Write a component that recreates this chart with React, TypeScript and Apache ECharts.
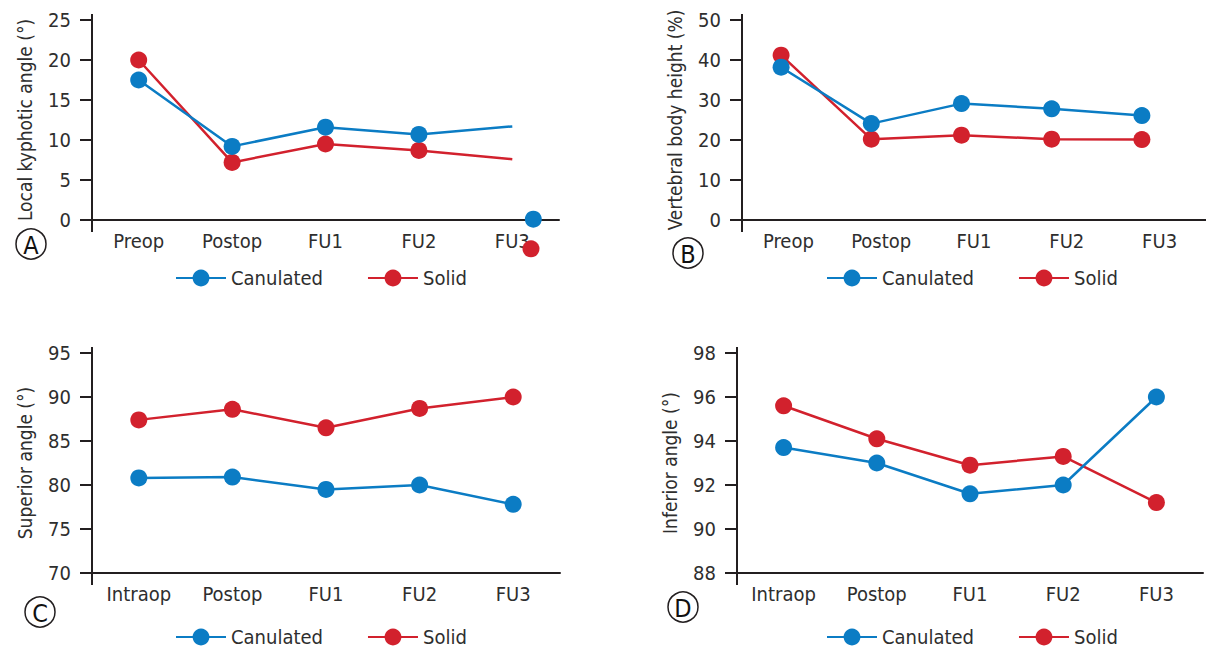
import React, { useEffect, useRef } from "react";
import * as echarts from "echarts";

// ---- data ----
const catsAB = ["Preop", "Postop", "FU1", "FU2", "FU3"];
const catsCD = ["Intraop", "Postop", "FU1", "FU2", "FU3"];
const kyphCanulated = [17.5, 9.2, 11.6, 10.7, 11.7];
const kyphSolid = [20.0, 7.2, 9.5, 8.7, 7.6];
const kyphStrayCanulated = [[4.225, 0.1]];
const kyphStraySolid = [[4.2, -3.6]];
const vbhCanulated = [38.2, 24.1, 29.1, 27.8, 26.1];
const vbhSolid = [41.2, 20.2, 21.2, 20.2, 20.1];
const supCanulated = [80.8, 80.9, 79.5, 80.0, 77.8];
const supSolid = [87.4, 88.6, 86.5, 88.7, 90.0];
const infCanulated = [93.7, 93.0, 91.6, 92.0, 96.0];
const infSolid = [95.6, 94.1, 92.9, 93.3, 91.2];

const BLUE = "#0b7cc4";
const RED = "#d2212d";
const INK = "#231f20";
const TXT = "#2e2e2e";
const FONT = "'Liberation Sans Narrow', 'DejaVu Sans Condensed', 'Roboto', sans-serif";

// layout
const PA = { left: 92, top: 20, width: 467, height: 200 };
const PBlab = { left: 742, top: 20, width: 470, height: 200 };
const PBdat = { left: 736, top: 20, width: 451, height: 200 };
const PC = { left: 92, top: 353, width: 468, height: 220 };
const PD = { left: 737, top: 353, width: 466, height: 220 };

function yAxisCfg(gridIndex: number, min: number, max: number, interval: number, name: string) {
  return {
    type: "value",
    gridIndex,
    min,
    max,
    interval,
    name,
    nameLocation: "middle",
    nameGap: 58,
    nameTextStyle: { fontFamily: FONT, fontSize: 19, color: TXT },
    axisLine: { show: false, onZero: false },
    axisTick: { show: true, length: 12, lineStyle: { color: INK, width: 2 } },
    axisLabel: { margin: 21, fontFamily: FONT, fontSize: 20, color: TXT },
    splitLine: { show: false },
  };
}

function xAxisCfg(gridIndex: number, data: string[]) {
  return {
    type: "category",
    gridIndex,
    data,
    boundaryGap: true,
    axisLine: { show: true, onZero: false, lineStyle: { color: INK, width: 2 } },
    axisTick: { show: false },
    axisLabel: { margin: 11, fontFamily: FONT, fontSize: 20, color: TXT, interval: 0 },
    splitLine: { show: false },
  };
}

function lineSeries(name: string, color: string, xi: number, yi: number, data: any[]) {
  return {
    type: "line",
    name,
    xAxisIndex: xi,
    yAxisIndex: yi,
    data,
    symbol: "circle",
    symbolSize: 17,
    lineStyle: { color, width: 2.5 },
    itemStyle: { color, opacity: 1 },
    z: color === RED ? 3 : 4,
  };
}

function legendCfg(left: number, top: number) {
  return {
    data: ["Canulated", "Solid"],
    left,
    top,
    padding: 0,
    itemWidth: 50,
    itemHeight: 21,
    itemGap: 44,
    selectedMode: false,
    textStyle: { fontFamily: FONT, fontSize: 20, color: TXT },
  };
}

function yLine(p: { left: number; top: number; height: number }) {
  return {
    type: "line",
    shape: { x1: p.left, y1: p.top - 6, x2: p.left, y2: p.top + p.height + 12 },
    style: { stroke: INK, lineWidth: 2 },
    z: 10,
  };
}

function badge(cx: number, cy: number, letter: string) {
  return [
    { type: "circle", shape: { cx, cy, r: 15 }, style: { fill: "#fff", stroke: INK, lineWidth: 1.5 } },
    {
      type: "text",
      x: cx,
      y: cy + 1,
      style: { text: letter, align: "center", verticalAlign: "middle", fontFamily: FONT, fontSize: 25, fill: "#111" },
    },
  ];
}

export default function App() {
  const ref = useRef<HTMLDivElement>(null);
  useEffect(() => {
    if (!ref.current) return;
    const chart = echarts.init(ref.current, undefined, { renderer: "svg" });
    const a = kyphCanulated.map((v, i) => (i === 4 ? { value: v, symbol: "none" } : v));
    const b = kyphSolid.map((v, i) => (i === 4 ? { value: v, symbol: "none" } : v));
    chart.setOption({
      animation: false,
      backgroundColor: "#ffffff",
      grid: [
        { ...PA, containLabel: false },
        { ...PBlab, containLabel: false },
        { ...PBdat, containLabel: false },
        { ...PC, containLabel: false },
        { ...PD, containLabel: false },
      ],
      xAxis: [
        xAxisCfg(0, catsAB),
        { type: "value", gridIndex: 0, min: -0.5, max: 4.5, show: false },
        xAxisCfg(1, catsAB),
        { ...xAxisCfg(2, catsAB), show: false },
        xAxisCfg(3, catsCD),
        xAxisCfg(4, catsCD),
      ],
      yAxis: [
        yAxisCfg(0, 0, 25, 5, "Local kyphotic angle (°)"),
        yAxisCfg(1, 0, 50, 10, "Vertebral body height (%)"),
        { type: "value", gridIndex: 2, min: 0, max: 50, interval: 10, show: false },
        yAxisCfg(3, 70, 95, 5, "Superior angle (°)"),
        yAxisCfg(4, 88, 98, 2, "Inferior angle (°)"),
      ],
      legend: [legendCfg(175, 268), legendCfg(826, 268), legendCfg(175, 627), legendCfg(826, 627)],
      series: [
        lineSeries("Canulated", BLUE, 0, 0, a),
        lineSeries("Solid", RED, 0, 0, b),
        {
          type: "scatter", name: "Canulated FU3", xAxisIndex: 1, yAxisIndex: 0, data: kyphStrayCanulated,
          symbolSize: 17, itemStyle: { color: BLUE, opacity: 1 }, clip: false, z: 5,
        },
        {
          type: "scatter", name: "Solid FU3", xAxisIndex: 1, yAxisIndex: 0, data: kyphStraySolid,
          symbolSize: 17, itemStyle: { color: RED, opacity: 1 }, clip: false, z: 5,
        },
        lineSeries("Canulated", BLUE, 3, 2, vbhCanulated),
        lineSeries("Solid", RED, 3, 2, vbhSolid),
        lineSeries("Canulated", BLUE, 4, 3, supCanulated),
        lineSeries("Solid", RED, 4, 3, supSolid),
        lineSeries("Canulated", BLUE, 5, 4, infCanulated),
        lineSeries("Solid", RED, 5, 4, infSolid),
      ],
      graphic: [
        yLine(PA),
        yLine(PBlab),
        yLine(PC),
        yLine(PD),
        ...badge(31, 244, "A"),
        ...badge(688, 253, "B"),
        ...badge(40, 612, "C"),
        ...badge(683, 607, "D"),
      ],
    });
    return () => chart.dispose();
  }, []);
  return <div ref={ref} style={{ position: "fixed", left: 0, top: 0, width: 1206, height: 652, background: "#fff" }} />;
}
